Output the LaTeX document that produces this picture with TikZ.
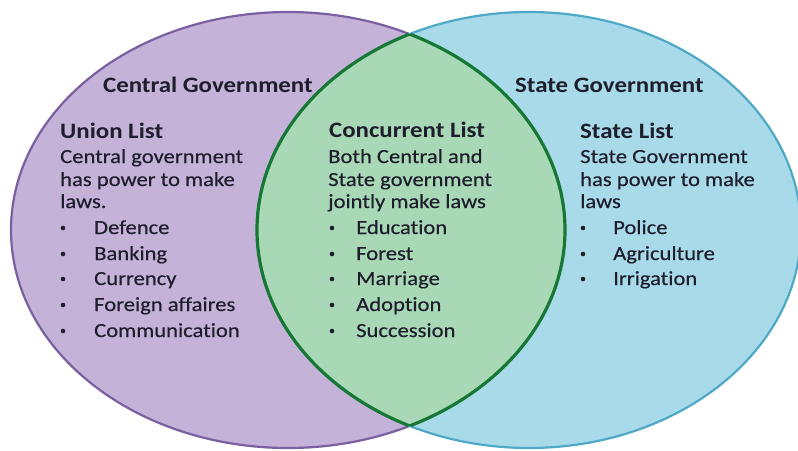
\documentclass[tikz,border=0pt]{standalone}
\usepackage{fontspec}
\setmainfont{Carlito}
\newfontfamily\headfont[FakeStretch=1.13,Ligatures=NoCommon]{Carlito}
\newfontfamily\txtfont[FakeStretch=1.13,Ligatures=NoCommon,FakeBold=0.4]{Carlito}
\definecolor{purpfill}{RGB}{196,178,216}
\definecolor{purpline}{RGB}{122,96,160}
\definecolor{bluefill}{RGB}{168,218,234}
\definecolor{blueline}{RGB}{78,168,198}
\definecolor{greenfill}{RGB}{168,216,182}
\definecolor{greenline}{RGB}{22,120,52}
\definecolor{ink}{RGB}{30,30,45}
\tikzset{
  title/.style={anchor=base west,inner sep=0pt,text=ink,font=\headfont\bfseries\fontsize{22}{24}\selectfont},
  head/.style={anchor=base west,inner sep=0pt,text=ink,font=\headfont\bfseries\fontsize{22}{24}\selectfont},
  body/.style={anchor=base west,inner sep=0pt,text=ink,font=\txtfont\fontsize{20}{22}\selectfont},
  dot/.style={circle,fill=ink,inner sep=0pt,minimum size=4.6pt},
}
\begin{document}
\begin{tikzpicture}[x=1pt,y=-1pt]
\useasboundingbox (0,0) rectangle (798,450);
\coordinate (L) at (288,230);
\coordinate (R) at (529,230);
% circles
\fill[purpfill] (L) ellipse [x radius=277, y radius=218];
\draw[purpline,line width=2.2pt] (L) ellipse [x radius=277, y radius=218];
\fill[bluefill] (R) ellipse [x radius=272, y radius=218];
\draw[blueline,line width=2.2pt] (R) ellipse [x radius=272, y radius=218];
% lens
\begin{scope}
  \clip (L) ellipse [x radius=277, y radius=218];
  \fill[greenfill] (R) ellipse [x radius=272, y radius=218];
  \draw[greenline,line width=3.2pt] (R) ellipse [x radius=272, y radius=218];
\end{scope}
\begin{scope}
  \clip (R) ellipse [x radius=272, y radius=218];
  \draw[greenline,line width=3.2pt] (L) ellipse [x radius=277, y radius=218];
\end{scope}
% titles
\node[title] (tc) at (103,92) {Central Government};
\node[title] (ts) at (515,92) {State Government};
% union list
\node[head] (uh) at (60,138) {Union List};
\node[body] (u1) at (60,163) {Central government};
\node[body] (u2) at (60,186) {has power to make};
\node[body] (u3) at (60,208) {laws.};
\foreach \t/\y/\n in {Defence/234/a,Banking/260/b,Currency/285/c,Foreign affaires/311/d,Communication/337/e}{
  \node[dot] (ub\n) at (63,\y-6) {};
  \node[body] (ui\n) at (94,\y) {\t};
}
% concurrent list
\node[head] (ch) at (329,137) {Concurrent List};
\node[body] (c1) at (328,163) {Both Central and};
\node[body] (c2) at (328,186) {State government};
\node[body] (c3) at (328,208) {jointly make laws};
\foreach \t/\y/\n in {Education/234/a,Forest/260/b,Marriage/285/c,Adoption/311/d,Succession/337/e}{
  \node[dot] (cb\n) at (332,\y-6) {};
  \node[body] (ci\n) at (356,\y) {\t};
}
% state list
\node[head] (sh) at (580,138) {State List};
\node[body] (s1) at (580,163) {State Government};
\node[body] (s2) at (580,186) {has power to make};
\node[body] (s3) at (580,208) {laws};
\foreach \t/\y/\n in {Police/234/a,Agriculture/260/b,Irrigation/285/c}{
  \node[dot] (sb\n) at (583,\y-6) {};
  \node[body] (si\n) at (613,\y) {\t};
}
\end{tikzpicture}
\end{document}
